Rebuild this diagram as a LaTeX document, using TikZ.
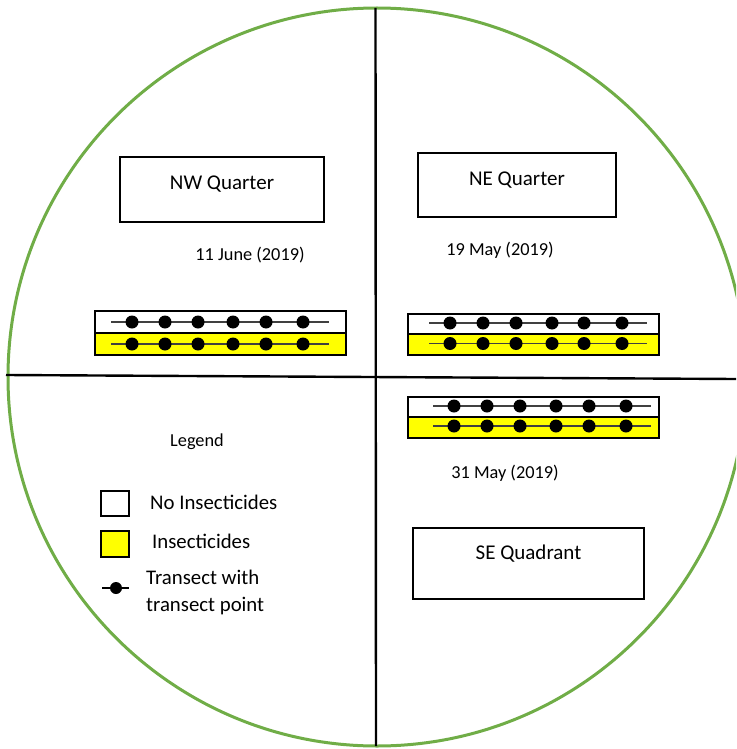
\documentclass[tikz,border=0pt]{standalone}
\usepackage{fontspec}
\setmainfont{Carlito}
\definecolor{ringgreen}{HTML}{70AD47}
\definecolor{insyellow}{HTML}{FFFF00}
\definecolor{linegray}{HTML}{404040}
\tikzset{
  quadbox/.style={draw=black, line width=1.6pt, fill=white, inner sep=0pt,
    font=\fontsize{21}{24}\selectfont, text height=14pt, text depth=14pt},
  datelbl/.style={font=\fontsize{18.3}{22}\selectfont, inner sep=0pt},
  strip/.style={draw=black, line width=1.8pt, inner sep=0pt, minimum width=251pt},
  nostrip/.style={strip, fill=white},
  insstrip/.style={strip, fill=insyellow},
  tline/.style={draw=linegray, line width=1.3pt},
  tdot/.style={circle, fill=black, inner sep=0pt, minimum size=13pt},
  legbox/.style={draw=black, line width=2pt, inner sep=0pt, minimum width=28pt},
  legtext/.style={font=\fontsize{20.8}{27}\selectfont, anchor=west, inner sep=0pt, align=left},
  divider/.style={draw=black, line width=2.4pt},
}
\begin{document}
\begin{tikzpicture}[x=1pt,y=-1pt]
\useasboundingbox (0,0) rectangle (736,749);
\begin{scope}
\clip (0,0) rectangle (736,749);
% ring
\draw[ringgreen, line width=3pt] (377,377) circle[radius=369pt];
% dividers
\coordinate (vt) at (375.5,8);
\coordinate (vb) at (376,746);
\coordinate (hl) at (6,375);
\coordinate (hr) at (736,379);
\draw[divider] (vt) -- (vb);
\draw[divider] (hl) -- (hr);

% quarter boxes
\node[quadbox, minimum width=204pt, minimum height=65pt] (nw) at (222,189.5) {NW Quarter};
\node[quadbox, minimum width=198pt, minimum height=64pt] (ne) at (517,185) {NE Quarter};
\node[quadbox, minimum width=231pt, minimum height=71pt, text depth=23pt] (se) at (528.5,563.5) {SE Quadrant};

% dates
\node[datelbl] (dnw) at (250,255) {11 June (2019)};
\node[datelbl] (dne) at (500,250) {19 May (2019)};
\node[datelbl] (dse) at (505,473) {31 May (2019)};

% NW strips
\node[nostrip, minimum height=22pt] (nwA) at (220.5,322) {};
\node[insstrip, minimum height=22pt] (nwB) at (220.5,344) {};
\coordinate (nwA1) at (111,322); \coordinate (nwA2) at (329,322);
\coordinate (nwB1) at (111,344); \coordinate (nwB2) at (329,344);
\draw[tline] (nwA1) -- (nwA2);
\draw[tline] (nwB1) -- (nwB2);
\foreach \x [count=\i] in {132,165,198,233,266,303} {
  \node[tdot] (nwa\i) at (\x,322) {};
  \node[tdot] (nwb\i) at (\x,344) {};
}

% NE strips
\node[nostrip, minimum height=20.5pt] (neA) at (533.5,324) {};
\node[insstrip, minimum height=20.5pt] (neB) at (533.5,344.5) {};
\coordinate (neA1) at (429,323); \coordinate (neA2) at (647,323);
\coordinate (neB1) at (429,343.5); \coordinate (neB2) at (647,343.5);
\draw[tline] (neA1) -- (neA2);
\draw[tline] (neB1) -- (neB2);
\foreach \x [count=\i] in {450,483,516,552,584,622} {
  \node[tdot] (nea\i) at (\x,323) {};
  \node[tdot] (neb\i) at (\x,343.5) {};
}

% SE strips
\node[nostrip, minimum height=20pt] (seA) at (533.5,407) {};
\node[insstrip, minimum height=21pt] (seB) at (533.5,427.5) {};
\coordinate (seA1) at (433,406); \coordinate (seA2) at (651,406);
\coordinate (seB1) at (433,426); \coordinate (seB2) at (651,426);
\draw[tline] (seA1) -- (seA2);
\draw[tline] (seB1) -- (seB2);
\foreach \x [count=\i] in {454,487,520,556,589,626} {
  \node[tdot] (sea\i) at (\x,406) {};
  \node[tdot] (seb\i) at (\x,426) {};
}

% legend
\node[datelbl] (leg) at (197,442) {Legend};
\node[legbox, fill=white, minimum height=25pt] (lg1) at (115,503.5) {};
\node[legtext] (lt1) at (150,502) {No Insecticides};
\node[legbox, fill=insyellow, minimum height=26pt] (lg2) at (115,544) {};
\node[legtext] (lt2) at (152,541) {Insecticides};
\coordinate (lgl1) at (102,588); \coordinate (lgl2) at (129,588);
\draw[tline, draw=black, line width=1.8pt] (lgl1) -- (lgl2);
\node[tdot, minimum size=12pt] (lgd) at (116,588) {};
\node[legtext] (lt3) at (146,592) {Transect with\\transect point};
\end{scope}
\end{tikzpicture}
\end{document}
